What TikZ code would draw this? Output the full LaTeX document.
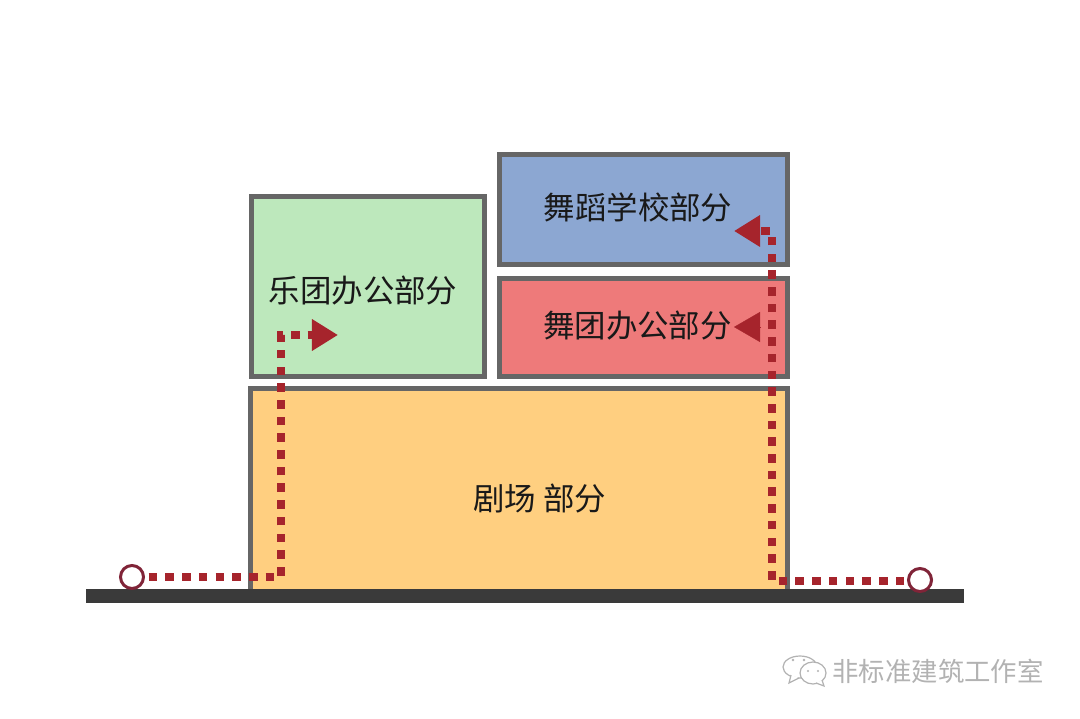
\documentclass[tikz,border=0pt]{standalone}
\usepackage{xcolor}
\usepackage{fontspec}
\usetikzlibrary{arrows.meta}
\newfontfamily\cjk{Noto Sans CJK SC}
\definecolor{wall}{RGB}{102,102,102}
\definecolor{ground}{RGB}{58,58,58}
\definecolor{orchestra}{RGB}{189,232,188}
\definecolor{school}{RGB}{140,167,210}
\definecolor{troupe}{RGB}{238,122,122}
\definecolor{theatre}{RGB}{255,207,128}
\definecolor{route}{RGB}{166,36,44}
\definecolor{entry}{RGB}{128,36,56}
\definecolor{wmgray}{RGB}{178,178,178}
\tikzset{
  block/.style={rectangle, draw=wall, line width=0.05cm, inner sep=0pt},
  blocktext/.style={font=\cjk\fontsize{8.95pt}{10pt}\selectfont, text=black!90, inner sep=0pt},
  entrance/.style={circle, draw=entry, fill=white, line width=0.03cm, minimum size=0.23cm, inner sep=0pt},
  routeline/.style={route, line width=0.088cm, dash pattern=on 0.086cm off 0.081cm},
  routetip/.style={-{Triangle[length=0.26cm, width=0.30cm]}},
}
\begin{document}
\begin{tikzpicture}[x=0.01cm, y=-0.01cm]
\useasboundingbox (0,0) rectangle (1080,719);

\node (theatreblock) [block, fill=theatre, minimum width=5.36cm, minimum height=2.075cm] at (519,492.25) {};
\node (orchestrablock) [block, fill=orchestra, minimum width=2.325cm, minimum height=1.795cm] at (367.75,286.5) {};
\node (schoolblock) [block, fill=school, minimum width=2.88cm, minimum height=1.10cm] at (643.5,209.5) {};
\node (troupeblock) [block, fill=troupe, minimum width=2.88cm, minimum height=0.98cm] at (643.5,327.5) {};
\node (groundbar) [rectangle, fill=ground, minimum width=8.78cm, minimum height=0.14cm, inner sep=0pt] at (525,596) {};

\node (orchestratext) [blocktext] at (363,291) {乐团办公部分};
\node (schooltext) [blocktext] at (638,207) {舞蹈学校部分};
\node (troupetext) [blocktext] at (637.5,325.5) {舞团办公部分};
\node (theatretext) [blocktext] at (539.5,499) {剧场 部分};

\node (entryleft) [entrance] at (132,577) {};
\node (entryright) [entrance] at (920,580) {};

\coordinate (leftfoot) at (281,577);
\coordinate (leftknee) at (281,335);
\coordinate (lefttip) at (338,335);
\coordinate (rightfoot) at (772,581);
\coordinate (rightknee) at (772,231);
\coordinate (schooltip) at (734,231);
\coordinate (troupetail) at (761,327);
\coordinate (troupetip) at (734,327);

\draw [routeline, routetip, dash phase=0.13cm] (entryleft) -- (leftfoot) -- (leftknee) -- (lefttip);
\draw [routeline, routetip, dash phase=0.14cm] (entryright.west |- rightfoot) -- (rightfoot) -- (rightknee) -- (schooltip);
\draw [route, line width=0.1pt, routetip] (troupetail) -- (troupetip);

% watermark
\draw [wmgray, fill=white, line width=0.012cm] (800,667) ellipse (17 and 11);
\draw [wmgray, fill=white, line width=0.012cm] (791,675) -- (789,683) -- (799,678);
\draw [wmgray, fill=white, line width=0.012cm] (813,673) ellipse (13 and 11);
\draw [wmgray, fill=white, line width=0.012cm] (816,683) -- (824,686) -- (822,680);
\fill [wmgray] (793,660) circle (1.3) (804,660) circle (1.3) (808,671) circle (1.2) (818,671) circle (1.2);
\node (marktext) [font=\cjk\fontsize{7.5pt}{9pt}\selectfont, text=wmgray, inner sep=0pt] at (938,671) {非标准建筑工作室};
\end{tikzpicture}
\end{document}
